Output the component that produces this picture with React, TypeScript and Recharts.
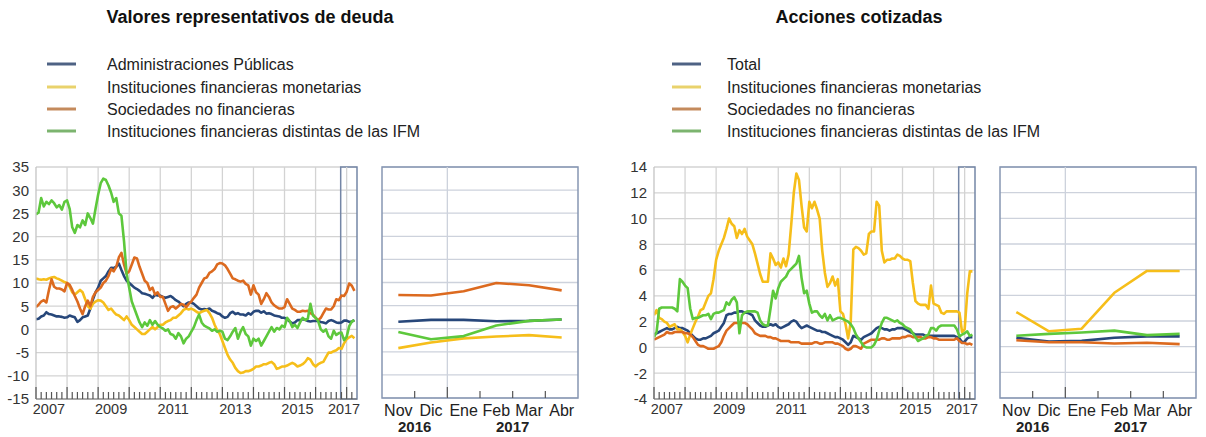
import React from 'react';
import { LineChart, Line, XAxis, YAxis, CartesianGrid, ReferenceLine, ReferenceArea } from 'recharts';

const FONT = '"Liberation Sans", Arial, Helvetica, sans-serif';

// ---------- Valores representativos de deuda (monthly, Jan 2007 .. Apr 2017) ----------
const deudaGov = [
  2.2, 2.3, 2.8, 3.0, 3.7, 3.3, 3.2, 3.0, 2.8, 2.8, 2.7, 2.5,
  2.6, 3.0, 2.8, 2.6, 1.6, 2.0, 2.6, 2.8, 3.0, 4.5, 6.5, 8.0,
  9.0, 10.5, 11.0, 11.5, 12.5, 13.3, 13.2, 13.5, 14.2, 12.8, 11.5, 10.5,
  10.0, 9.5, 9.0, 8.7, 8.3, 7.8, 7.7, 7.5, 7.3, 6.8, 7.5, 7.3,
  7.3, 7.0, 6.8, 7.0, 7.2, 6.8, 6.3, 6.0, 5.5, 5.0, 5.5, 5.8,
  5.8, 5.5, 5.0, 4.5, 4.3, 4.4, 4.3, 4.5, 4.0, 3.8, 3.5, 3.3,
  2.8, 2.5, 2.7, 3.5, 3.8, 3.3, 3.5, 3.2, 3.2, 3.0, 3.5, 3.2,
  3.8, 4.0, 4.0, 3.6, 3.9, 3.4, 3.5, 3.3, 3.0, 2.9, 2.8, 2.5,
  2.5, 2.2, 1.7, 1.3, 1.5, 2.0, 2.0, 2.2, 2.1, 1.8, 1.7, 1.8,
  1.8, 1.8, 1.6, 1.5, 1.3, 1.8, 2.0, 1.8, 1.5, 1.4, 1.5, 1.9,
  1.9, 1.6, 1.7, 2.0,
];
const deudaIFM = [
  11.0, 10.8, 10.7, 10.8, 10.7, 11.0, 11.2, 11.3, 11.0, 10.8, 10.5, 10.2,
  10.0, 9.2, 8.0, 7.5, 8.0, 8.5, 8.0, 6.5, 5.0, 4.5, 5.5, 6.0,
  6.3, 6.2, 5.8, 5.0, 4.2, 4.5, 3.8, 3.2, 3.0, 2.5, 2.0, 2.8,
  2.0, 1.0, 0.5, 0.0, -0.5, -1.0, -1.0, -0.5, 0.0, 0.5, 0.0, 0.5,
  1.0, 1.0, 1.5, 1.8, 2.0, 2.5, 2.5, 3.0, 3.5, 4.2, 4.5, 4.3,
  4.5, 4.2, 3.8, 3.5, 3.8, 4.0, 4.2, 3.5, 2.5, 1.0, -0.2, -1.0,
  -2.5, -4.0, -5.5, -6.5, -7.2, -8.3, -9.0, -9.4, -9.3, -9.0, -9.0, -8.8,
  -8.5, -8.0, -8.0, -7.8, -7.5, -7.5, -7.2, -7.0, -7.5, -8.5, -8.3, -8.0,
  -8.0, -7.8, -7.5, -7.2, -7.5, -8.0, -7.8, -7.5, -7.0, -6.2, -6.5, -7.5,
  -8.0, -7.5, -7.2, -7.0, -6.0, -5.0, -5.0, -4.7, -4.5, -4.0, -4.2, -3.0,
  -2.1, -1.7, -1.4, -1.9,
];
const deudaSNF = [
  4.8, 5.3, 6.0, 6.3, 5.8, 8.5, 10.8, 9.2, 8.8, 8.8, 8.6, 8.2,
  10.0, 9.6, 8.5, 7.2, 6.0, 4.5, 3.3, 5.0, 6.2, 5.0, 7.0, 8.0,
  8.5, 9.0, 10.0, 10.5, 11.5, 13.0, 12.5, 13.5, 15.5, 16.5, 14.0, 12.0,
  12.5, 14.0, 15.5, 15.3, 13.5, 12.0, 10.5, 10.0, 8.5, 9.0, 7.5, 8.0,
  7.0, 7.0, 5.5, 4.0, 4.8, 5.0, 4.5, 5.0, 5.5, 5.3, 4.8, 5.5,
  6.0, 6.8, 7.5, 9.0, 10.0, 11.0, 11.2, 12.2, 12.5, 13.0, 14.0, 14.3,
  14.2, 13.8, 13.0, 12.0, 11.0, 10.8, 10.5, 10.3, 10.5, 9.8, 9.5, 7.5,
  9.5, 8.0, 7.5, 5.5, 6.5, 7.8, 7.0, 5.8, 5.2, 4.8, 4.5, 4.5,
  4.8, 6.5, 5.5, 4.5, 4.2, 3.8, 3.8, 4.0, 3.9, 4.0, 3.5, 3.2,
  2.5, 2.0, 2.5, 3.5, 4.5, 4.3, 4.3, 5.0, 6.5, 6.3, 7.3, 7.2,
  8.1, 9.9, 9.4, 8.3,
];
const deudaOFI = [
  24.8, 25.2, 28.3, 26.5, 27.5, 27.0, 27.8, 27.2, 26.3, 26.8, 25.8, 27.5,
  27.8, 26.0, 22.0, 20.8, 22.5, 22.0, 23.5, 22.5, 25.0, 24.0, 22.8, 26.0,
  29.0, 31.5, 32.5, 32.2, 31.0, 29.5, 27.5, 28.3, 25.0, 24.5, 19.0, 12.0,
  9.0, 6.0, 4.5, 3.0, 1.5, 0.5, 1.5, 0.8, 2.0, 1.0, 1.8, 1.0,
  0.5, 0.2, -0.3, 0.0, -1.0, -1.2, -2.0, -0.8, -1.5, -3.0, -2.0, -1.5,
  -0.5, 0.5, 2.0, 3.2, 1.5, 0.8, 0.5, 0.2, -0.3, 0.0, -0.5, -0.3,
  -0.5, -2.0, -2.3, -1.5, -0.5, 0.3, -2.0, -0.5, 0.5, -1.0, -1.5, -3.5,
  -2.0, -2.5, -2.0, -3.5, -2.5, -1.5, -0.5, 0.5, -0.5, 0.3, 0.0, 0.8,
  0.5, 2.5, 1.8, 0.5, 1.0, 0.3, 1.5, 2.5, 2.0, 2.3, 5.5, 3.0,
  2.5, 1.8, 0.0, -0.5, 0.0, -1.5, -2.0, -0.3, -1.2, -0.8, -0.7, -2.3,
  -1.6, 0.7, 1.7, 2.0,
];

// ---------- Acciones cotizadas ----------
const accTotal = [
  1.0, 1.1, 1.2, 1.3, 1.4, 1.5, 1.4, 1.4, 1.5, 1.6, 1.5, 1.5,
  1.4, 1.3, 1.1, 0.9, 0.7, 0.6, 0.6, 0.7, 0.7, 0.8, 0.9, 1.1,
  1.2, 1.3, 1.6, 1.9, 2.5, 2.6, 2.6, 2.7, 2.7, 2.8, 2.8, 2.7,
  2.7, 2.6, 2.5, 2.1, 1.9, 1.7, 1.6, 1.6, 1.7, 1.8, 1.7, 1.8,
  1.6, 1.5, 1.6, 1.7, 1.8, 2.0, 2.1, 2.0, 1.7, 1.5, 1.6, 1.7,
  1.6, 1.5, 1.4, 1.3, 1.3, 1.2, 1.2, 1.1, 1.0, 0.9, 0.8, 0.8,
  0.7, 0.6, 0.4, 0.2, 0.4, 0.9, 0.8, 0.7, 0.6, 0.8, 0.9, 1.0,
  1.1, 1.3, 1.5, 1.6, 1.5, 1.4, 1.4, 1.3, 1.4, 1.4, 1.5, 1.5,
  1.5, 1.4, 1.3, 1.2, 1.1, 1.0, 1.0, 1.0, 1.0, 0.9, 0.9, 0.9,
  0.9, 0.9, 0.9, 0.9, 0.9, 0.9, 0.9, 0.9, 0.9, 0.8, 0.7, 0.4,
  0.45, 0.7, 0.8, 0.8,
];
const accIFM = [
  2.5, 2.9, 2.3, 2.2, 2.0, 1.9, 1.6, 1.7, 1.8, 1.4, 1.4, 1.2,
  0.9, 0.4, 1.0, 1.5, 2.0, 2.4, 2.9, 3.0, 3.5, 4.0, 4.2, 5.3,
  6.8, 7.5, 8.0, 8.5, 9.2, 10.0, 9.6, 9.4, 8.5, 9.1, 8.8, 9.2,
  8.6, 8.3, 8.0, 7.3, 6.5, 5.7, 5.1, 5.1, 5.1, 7.3, 6.9, 6.4,
  6.6, 6.2, 6.9, 6.3, 7.2, 9.5, 12.0, 13.5, 13.0, 11.0, 9.3, 9.0,
  11.3, 10.8, 11.3, 10.7, 10.0, 7.5, 5.8, 4.7, 5.0, 5.5, 4.8, 5.3,
  2.8, 2.6, 1.8, 0.7, 2.0, 7.6, 7.8, 7.7, 7.5, 7.2, 7.3, 8.8,
  9.0, 9.0, 11.3, 11.0, 7.5, 6.6, 6.8, 6.8, 6.9, 6.9, 7.2, 7.1,
  6.9, 6.8, 6.8, 6.7, 5.0, 3.6, 3.4, 3.3, 3.3, 3.3, 3.0, 4.8,
  3.4, 3.3, 3.2, 2.7, 2.6, 2.8, 2.8, 2.8, 2.8, 2.8, 2.7, 1.2,
  1.4, 4.2, 5.9, 5.9,
];
const accSNF = [
  0.6, 0.7, 0.8, 0.9, 1.0, 1.2, 1.1, 1.1, 1.2, 1.2, 1.2, 1.2,
  1.1, 1.1, 1.0, 0.8, 0.5, 0.2, 0.1, 0.1, 0.0, -0.1, -0.1, -0.1,
  0.0, 0.1, 0.4, 0.9, 1.3, 1.5, 1.7, 1.9, 1.9, 1.9, 1.9, 1.9,
  1.8, 1.6, 1.4, 1.1, 1.0, 0.9, 0.9, 0.9, 0.8, 0.8, 0.7, 0.7,
  0.6, 0.5, 0.5, 0.5, 0.5, 0.4, 0.4, 0.4, 0.4, 0.3, 0.3, 0.3,
  0.3, 0.3, 0.4, 0.4, 0.3, 0.3, 0.4, 0.4, 0.4, 0.4, 0.3, 0.3,
  0.2, 0.1, -0.1, -0.2, -0.1, 0.1, 0.1, 0.0, -0.1, 0.3, 0.4, 0.5,
  0.6, 0.6, 0.6, 0.6, 0.7, 0.7, 0.6, 0.6, 0.7, 0.7, 0.7, 0.7,
  0.8, 0.8, 0.9, 0.9, 0.8, 0.8, 0.8, 0.8, 0.7, 0.7, 0.8, 0.8,
  0.7, 0.7, 0.6, 0.6, 0.6, 0.6, 0.6, 0.6, 0.6, 0.7, 0.5, 0.35,
  0.35, 0.25, 0.3, 0.2,
];
const accOFI = [
  0.8, 1.2, 3.0, 3.1, 3.1, 3.1, 3.1, 3.1, 3.0, 2.8, 5.3, 5.1,
  4.8, 4.6, 3.0, 2.2, 2.3, 2.3, 2.4, 2.5, 2.5, 2.6, 2.2, 2.6,
  2.7, 2.7, 2.8, 2.9, 3.5, 3.3, 3.7, 3.9, 3.5, 1.1, 2.5, 2.7,
  2.8, 2.8, 2.8, 2.8, 2.7, 2.1, 1.8, 1.7, 1.7, 3.0, 4.4, 3.8,
  4.6, 5.1, 5.3, 5.5, 5.9, 6.1, 6.3, 6.5, 7.1, 5.4, 4.2, 4.4,
  3.4, 2.7, 2.8, 2.8, 2.5, 2.3, 2.6, 2.1, 2.5, 2.1, 2.2, 2.3,
  2.3, 2.2, 2.1, 2.0, 1.8, 1.5, 1.0, 0.7, 0.4, 0.1, 0.0, 0.0,
  0.0, 0.2, 0.6, 1.3, 1.9, 2.3, 2.3, 2.2, 2.1, 2.0, 2.1, 1.9,
  1.8, 1.6, 1.5, 1.4, 1.1, 0.8, 0.5, 0.6, 0.7, 0.9, 1.0, 1.5,
  1.5, 1.3, 1.6, 1.7, 1.7, 1.7, 1.7, 1.7, 1.7, 1.4, 0.85, 1.0,
  1.1, 1.25, 0.9, 1.0,
];

// ---------- axes / labels ----------
const yearLabels = ['2007', '2009', '2011', '2013', '2015', '2017'];
const yearLabelMonths = [5, 29, 53, 77, 101, 119];
const yearStarts = [12, 24, 36, 48, 60, 72, 84, 96, 108, 120];
const recentMonths = ['Nov', 'Dic', 'Ene', 'Feb', 'Mar', 'Abr'];
const recentYearLabels = ['2016', '2017'];
const recentYearPos = [0.5, 3.5];
const deudaTicks = [-15, -10, -5, 0, 5, 10, 15, 20, 25, 30, 35];
const accTicks = [-4, -2, 0, 2, 4, 6, 8, 10, 12, 14];
const RECENT_N = 6;
const BOX_START = 117.7;
const MONTH_END = 124;

const COLORS = { blue: '#27477a', yellow: '#f6be1a', orange: '#dc6a1f', green: '#5dc83c' };
const LEGEND_COLORS = { blue: '#4e6284', yellow: '#e9d26c', orange: '#c48a5c', green: '#7cb46f' };

type Series = { key: string; name: string; color: keyof typeof COLORS; values: number[] };

const deudaSeries: Series[] = [
  { key: 'a', name: 'Administraciones Públicas', color: 'blue', values: deudaGov },
  { key: 'b', name: 'Instituciones financieras monetarias', color: 'yellow', values: deudaIFM },
  { key: 'c', name: 'Sociedades no financieras', color: 'orange', values: deudaSNF },
  { key: 'd', name: 'Instituciones financieras distintas de las IFM', color: 'green', values: deudaOFI },
];
const accSeries: Series[] = [
  { key: 'a', name: 'Total', color: 'blue', values: accTotal },
  { key: 'b', name: 'Instituciones financieras monetarias', color: 'yellow', values: accIFM },
  { key: 'c', name: 'Sociedades no financieras', color: 'orange', values: accSNF },
  { key: 'd', name: 'Instituciones financieras distintas de las IFM', color: 'green', values: accOFI },
];

function buildMain(series: Series[]) {
  const n = series[0].values.length;
  const rows: any[] = [];
  for (let i = 0; i < n; i++) {
    const r: any = { i };
    series.forEach((s) => (r[s.key] = s.values[i]));
    rows.push(r);
  }
  return rows;
}
function buildRecent(series: Series[]) {
  const rows: any[] = [];
  for (let k = 0; k < RECENT_N; k++) {
    const r: any = { k };
    series.forEach((s) => (r[s.key] = s.values[s.values.length - RECENT_N + k]));
    rows.push(r);
  }
  return rows;
}

const evenMonths: number[] = [];
for (let m = 0; m < MONTH_END; m += 2) evenMonths.push(m);
const mainTicks = [...evenMonths, ...yearLabelMonths];

const MainTick = (props: any) => {
  const { x, y, payload } = props;
  const v = payload.value;
  const li = yearLabelMonths.indexOf(v);
  if (li >= 0) {
    return (
      <text x={x} y={y + 15} textAnchor="middle" fontSize={14.5} fill="#333" fontFamily={FONT}>
        {yearLabels[li]}
      </text>
    );
  }
  const tall = v % 12 === 0;
  return <line x1={x} x2={x} y1={y} y2={y - (tall ? 12 : 7)} stroke="#555" strokeWidth={1.2} />;
};

const recentTicks = [0, 0.5, 1, 1.5, 2, 2.5, 3, 3.5, 4, 4.5, 5];
const RecentTick = (props: any) => {
  const { x, y, payload } = props;
  const v = payload.value;
  if (Number.isInteger(v)) {
    return (
      <text x={x} y={y + 18} textAnchor="middle" fontSize={16} fill="#222" fontFamily={FONT}>
        {recentMonths[v]}
      </text>
    );
  }
  const yi = recentYearPos.indexOf(v);
  return (
    <g>
      <line x1={x} x2={x} y1={y} y2={y - (v === 1.5 ? 11 : 7)} stroke="#555" strokeWidth={1.2} />
      {yi >= 0 && (
        <text x={x} y={y + 34} textAnchor="middle" fontSize={15} fontWeight="bold" fill="#222" fontFamily={FONT}>
          {recentYearLabels[yi]}
        </text>
      )}
    </g>
  );
};

const CHART_TOP = 150;
const PLOT_TOP_MARGIN = 17;
const CHART_H = 287;

function MainChart({ series, yTicks, left, yWidth, marginRight }: any) {
  const data = buildMain(series);
  const yDomain = [yTicks[0], yTicks[yTicks.length - 1]];
  return (
    <div style={{ position: 'absolute', left, top: CHART_TOP }}>
      <LineChart width={yWidth + 321 + marginRight} height={CHART_H} data={data} margin={{ top: PLOT_TOP_MARGIN, right: marginRight, bottom: 0, left: 0 }}>
        <CartesianGrid vertical={false} stroke="#d3d3d3" strokeWidth={1.3} />
        {yearStarts.map((m) => (
          <ReferenceLine key={m} x={m} stroke="#d3d3d3" strokeWidth={1.3} />
        ))}
        <XAxis
          type="number"
          dataKey="i"
          domain={[0, MONTH_END]}
          ticks={mainTicks}
          interval={0}
          tick={<MainTick />}
          tickLine={false}
          tickSize={0}
          tickMargin={0}
          axisLine={{ stroke: '#777', strokeWidth: 1.2 }}
          height={38}
          allowDataOverflow
        />
        <YAxis
          domain={yDomain}
          ticks={yTicks}
          interval={0}
          width={yWidth}
          tickLine={false}
          tickSize={0}
          tickMargin={7}
          axisLine={{ stroke: '#c4c4c4', strokeWidth: 1.3 }}
          tick={{ fontSize: 15, fill: '#333', fontFamily: FONT }}
          allowDataOverflow
        />
        {series.map((s: Series) => (
          <Line
            key={s.key}
            type="linear"
            dataKey={s.key}
            stroke={COLORS[s.color]}
            strokeWidth={2.6}
            dot={false}
            isAnimationActive={false}
            strokeLinejoin="round"
          />
        ))}
        <ReferenceArea x1={BOX_START} x2={MONTH_END} y1={yDomain[0]} y2={yDomain[1]} fill="none" stroke="#7486a6" strokeWidth={1.5} />
      </LineChart>
    </div>
  );
}

function RecentChart({ series, yTicks, left }: any) {
  const data = buildRecent(series);
  const yDomain = [yTicks[0], yTicks[yTicks.length - 1]];
  return (
    <div style={{ position: 'absolute', left, top: CHART_TOP }}>
      <LineChart width={216} height={CHART_H} data={data} margin={{ top: PLOT_TOP_MARGIN, right: 10, bottom: 0, left: 10 }}>
        <CartesianGrid vertical={false} stroke="#cdd2dc" strokeWidth={1.3} />
        <ReferenceLine x={1.5} stroke="#cdd2dc" strokeWidth={1.3} />
        <XAxis
          type="number"
          dataKey="k"
          domain={[-0.5, RECENT_N - 0.5]}
          ticks={recentTicks}
          interval={0}
          tick={<RecentTick />}
          tickLine={false}
          tickSize={0}
          tickMargin={0}
          axisLine={false}
          height={39}
        />
        <YAxis hide domain={yDomain} ticks={yTicks} interval={0} width={0} />
        {series.map((s: Series) => (
          <Line
            key={s.key}
            type="linear"
            dataKey={s.key}
            stroke={COLORS[s.color]}
            strokeWidth={2.6}
            dot={false}
            isAnimationActive={false}
            strokeLinejoin="round"
          />
        ))}
        <ReferenceArea x1={-0.5} x2={RECENT_N - 0.5} y1={yDomain[0]} y2={yDomain[1]} fill="none" stroke="#8796b2" strokeWidth={1.5} />
      </LineChart>
    </div>
  );
}

function Header({ title, titleX, lineX, textX, series }: any) {
  const rows = [64, 87, 109, 131];
  return (
    <g fontFamily={FONT}>
      <text x={titleX} y={17} textAnchor="middle" dominantBaseline="central" fontSize={18} fontWeight="bold" fill="#111">
        {title}
      </text>
      {series.map((s: Series, idx: number) => (
        <g key={s.key}>
          <line x1={lineX} x2={lineX + 29} y1={rows[idx]} y2={rows[idx]} stroke={LEGEND_COLORS[s.color]} strokeWidth={3} />
          <text x={textX} y={rows[idx]} dominantBaseline="central" fontSize={16} fill="#222">
            {s.name}
          </text>
        </g>
      ))}
    </g>
  );
}

export default function App() {
  return (
    <div style={{ position: 'fixed', left: 0, top: 0, width: 1206, height: 437, background: '#fff', overflow: 'hidden', fontFamily: FONT }}>
      <svg width={1206} height={148} style={{ position: 'absolute', left: 0, top: 0 }}>
        <Header title="Valores representativos de deuda" titleX={250} lineX={47} textX={107} series={deudaSeries} />
        <Header title="Acciones cotizadas" titleX={859} lineX={672} textX={727} series={accSeries} />
      </svg>
      <MainChart series={deudaSeries} yTicks={deudaTicks} left={0} yWidth={36} marginRight={13} />
      <RecentChart series={deudaSeries} yTicks={deudaTicks} left={372} />
      <MainChart series={accSeries} yTicks={accTicks} left={614} yWidth={40} marginRight={10} />
      <RecentChart series={accSeries} yTicks={accTicks} left={990} />
    </div>
  );
}
